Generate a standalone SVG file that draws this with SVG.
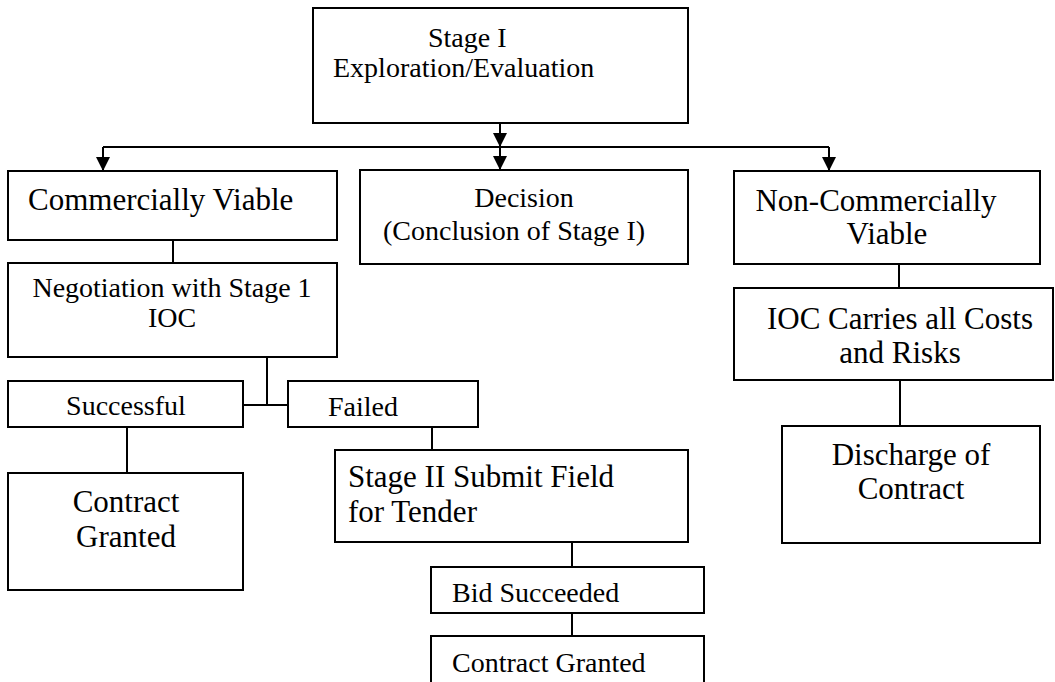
<svg xmlns="http://www.w3.org/2000/svg" width="1055" height="682" viewBox="0 0 1055 682">
<style>
  .box { fill: #ffffff; stroke: #000000; stroke-width: 2; }
  .t { font-family: "Liberation Serif", "Times New Roman", serif; fill: #000000; }
  .s28 { font-size: 28px; }
  .s31 { font-size: 31px; }
  .c { text-anchor: middle; }
  .conn { stroke: #000000; stroke-width: 2; fill: none; }
</style>
<defs>
  <marker id="arr" viewBox="0 0 14 14" refX="14" refY="7" markerWidth="14" markerHeight="14" markerUnits="userSpaceOnUse" orient="auto">
    <path d="M0,0 L14,7 L0,14 Z" fill="#000000"/>
  </marker>
</defs>
<rect width="1055" height="682" fill="#ffffff"/>

<g id="connectors">
  <line class="conn" x1="500" y1="123" x2="500" y2="147" marker-end="url(#arr)"/>
  <line class="conn" x1="103" y1="147" x2="829" y2="147"/>
  <line class="conn" x1="103" y1="147" x2="103" y2="171" marker-end="url(#arr)"/>
  <line class="conn" x1="500" y1="147" x2="500" y2="170" marker-end="url(#arr)"/>
  <line class="conn" x1="829" y1="147" x2="829" y2="171" marker-end="url(#arr)"/>
  <line class="conn" x1="173" y1="240" x2="173" y2="263"/>
  <line class="conn" x1="267" y1="357" x2="267" y2="405"/>
  <line class="conn" x1="243" y1="405" x2="288" y2="405"/>
  <line class="conn" x1="127" y1="427" x2="127" y2="473"/>
  <line class="conn" x1="432" y1="427" x2="432" y2="450"/>
  <line class="conn" x1="572" y1="542" x2="572" y2="567"/>
  <line class="conn" x1="572" y1="613" x2="572" y2="636"/>
  <line class="conn" x1="899" y1="264" x2="899" y2="288"/>
  <line class="conn" x1="900" y1="380" x2="900" y2="426"/>
</g>

<g id="stage1">
  <rect class="box" x="313" y="8" width="375" height="115"/>
  <text class="t s28" x="428" y="47">Stage I</text>
  <text class="t s28" x="333" y="77">Exploration/Evaluation</text>
</g>

<g id="commercially-viable">
  <rect class="box" x="8" y="171" width="329" height="69"/>
  <text class="t s31" x="28" y="210">Commercially Viable</text>
</g>

<g id="decision">
  <rect class="box" x="360" y="170" width="328" height="94"/>
  <text class="t s28 c" x="524" y="207">Decision</text>
  <text class="t s28 c" x="514" y="240">(Conclusion of Stage I)</text>
</g>

<g id="non-commercially-viable">
  <rect class="box" x="734" y="171" width="306" height="93"/>
  <text class="t s31 c" x="876" y="211">Non-Commercially</text>
  <text class="t s31 c" x="887" y="244">Viable</text>
</g>

<g id="negotiation">
  <rect class="box" x="8" y="263" width="329" height="94"/>
  <text class="t s28 c" x="172" y="297">Negotiation with Stage 1</text>
  <text class="t s28 c" x="172" y="327">IOC</text>
</g>

<g id="successful">
  <rect class="box" x="8" y="381" width="235" height="46"/>
  <text class="t s28 c" x="126" y="415">Successful</text>
</g>

<g id="failed">
  <rect class="box" x="288" y="381" width="190" height="46"/>
  <text class="t s28" x="328" y="416">Failed</text>
</g>

<g id="contract-granted-1">
  <rect class="box" x="8" y="473" width="235" height="117"/>
  <text class="t s31 c" x="126" y="512">Contract</text>
  <text class="t s31 c" x="126" y="547">Granted</text>
</g>

<g id="stage2">
  <rect class="box" x="335" y="450" width="353" height="92"/>
  <text class="t s31" x="348" y="487">Stage II Submit Field</text>
  <text class="t s31" x="348" y="522">for Tender</text>
</g>

<g id="bid-succeeded">
  <rect class="box" x="431" y="567" width="273" height="46"/>
  <text class="t s28" x="452" y="602">Bid Succeeded</text>
</g>

<g id="contract-granted-2">
  <rect class="box" x="431" y="636" width="273" height="60"/>
  <text class="t s28" x="452" y="672">Contract Granted</text>
</g>

<g id="ioc-carries">
  <rect class="box" x="734" y="288" width="319" height="92"/>
  <text class="t s31 c" x="900" y="329">IOC Carries all Costs</text>
  <text class="t s31 c" x="900" y="363">and Risks</text>
</g>

<g id="discharge">
  <rect class="box" x="782" y="426" width="258" height="117"/>
  <text class="t s31 c" x="911" y="465">Discharge of</text>
  <text class="t s31 c" x="911" y="499">Contract</text>
</g>
</svg>
